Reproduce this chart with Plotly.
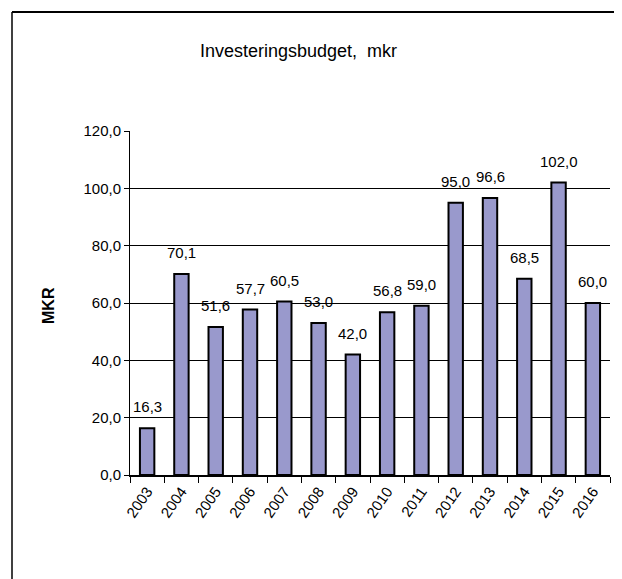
import plotly.graph_objects as go

years = ["2003", "2004", "2005", "2006", "2007", "2008", "2009",
         "2010", "2011", "2012", "2013", "2014", "2015", "2016"]
values = [16.3, 70.1, 51.6, 57.7, 60.5, 53.0, 42.0,
          56.8, 59.0, 95.0, 96.6, 68.5, 102.0, 60.0]
y_ticks = [0, 20, 40, 60, 80, 100, 120]
grid_ticks = [20, 40, 60, 80, 100]
title_text = "Investeringsbudget,  mkr"
y_title = "MKR"

SANS = "Liberation Sans, Arial, sans-serif"

# page body has an 8px margin, so the figure is drawn 8px right/down
OFF = 8
W, H = 622 - OFF, 579 - OFF
ML, MR, MT, MB = 130 - OFF, 12, 131 - OFF, 104
pw = W - ML - MR
ph = H - MT - MB

def px_x(p):
    # p given in page pixels
    return (p - OFF - ML) / pw

def px_y(p):
    return (H - MB - (p - OFF)) / ph

fig = go.Figure()
fig.add_trace(go.Bar(
    x=years, y=values,
    marker=dict(color="#9999cc", line=dict(color="black", width=2)),
    hoverinfo="x+y",
))

for i, v in enumerate(values):
    fig.add_annotation(
        x=i, y=v, xref="x", yref="y",
        text=f"{v:.1f}".replace(".", ","),
        showarrow=False, yanchor="bottom", yshift=11,
        font=dict(family=SANS, size=15, color="black"),
    )

fig.add_annotation(
    x=px_x(298), y=px_y(51), xref="paper", yref="paper",
    text=title_text, showarrow=False, xanchor="center", yanchor="middle",
    font=dict(family=SANS, size=18, color="black"),
)
fig.add_annotation(
    x=px_x(48), y=px_y(306), xref="paper", yref="paper",
    text=f"<b>{y_title}</b>", showarrow=False, textangle=-90,
    xanchor="center", yanchor="middle",
    font=dict(family=SANS, size=16, color="black"),
)

# outer frame: only top and left edges are visible in the reference
fig.add_shape(type="line", xref="paper", yref="paper",
              x0=px_x(12), x1=px_x(640), y0=px_y(12), y1=px_y(12),
              line=dict(color="black", width=2), layer="below")
fig.add_shape(type="line", xref="paper", yref="paper",
              x0=px_x(12), x1=px_x(12), y0=px_y(12), y1=px_y(640),
              line=dict(color="black", width=1.5), layer="below")

fig.update_layout(
    width=W, height=H,
    margin=dict(l=ML, r=MR, t=MT, b=MB),
    paper_bgcolor="white", plot_bgcolor="white",
    showlegend=False, bargap=0.58,
    separators=",.",
    xaxis=dict(
        type="category", range=[-0.5, len(years) - 0.5],
        tickson="boundaries", ticks="outside", ticklen=6,
        tickcolor="black", tickwidth=1, tickangle=-55,
        showline=True, linecolor="black", linewidth=1.5, showgrid=False,
        tickfont=dict(family=SANS, size=15, color="black"),
    ),
    yaxis=dict(
        range=[0, 120], tickvals=y_ticks, tickformat=".1f",
        ticks="outside", ticklen=5, tickcolor="black", tickwidth=1,
        showline=True, linecolor="black", linewidth=1, showgrid=False,
        zeroline=False,
        tickfont=dict(family=SANS, size=15, color="black"),
    ),
    yaxis2=dict(
        range=[0, 120], tickvals=grid_ticks, overlaying="y",
        showticklabels=False, showgrid=True, gridcolor="black", gridwidth=1,
        zeroline=False, showline=False, ticks="",
    ),
)
# invisible trace so the grid-only overlay axis is drawn
fig.add_trace(go.Scatter(x=[years[0]], y=[0], yaxis="y2", mode="markers",
                         marker=dict(opacity=0), hoverinfo="skip"))
fig.update_layout(yaxis2_layer="below traces")

fig.write_html("out.html", config={"displayModeBar": False})
